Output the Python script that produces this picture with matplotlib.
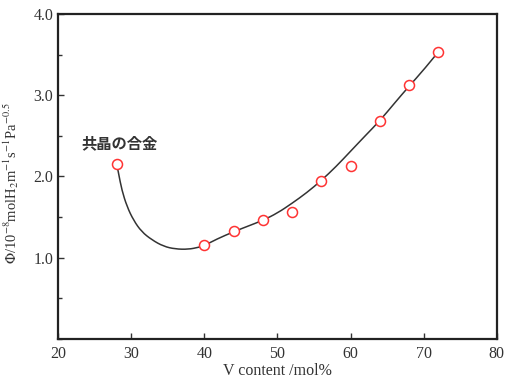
import numpy as np
import matplotlib.pyplot as plt
from matplotlib.ticker import MultipleLocator
from matplotlib.path import Path
from matplotlib.patches import PathPatch

plt.rcParams['font.family'] = ['Liberation Serif', 'DejaVu Serif']
plt.rcParams['mathtext.fontset'] = 'stix'

# measured points
v_content = [28, 40, 44, 48, 52, 56, 60, 64, 68, 72]
phi = [2.15, 1.16, 1.33, 1.47, 1.56, 1.95, 2.13, 2.685, 3.12, 3.53]

# hand drawn trend curve
curve_x = [28.0, 28.24, 28.7, 29.4, 30.3, 31.4, 32.8, 34.4, 36.0, 37.8,
           39.2, 40.0, 41.7, 44.0, 46.0, 48.0, 50.0, 52.0, 54.0, 56.0,
           58.0, 60.0, 62.0, 64.0, 66.0, 68.0, 70.0, 72.0]
curve_y = [2.15, 2.04, 1.83, 1.63, 1.46, 1.32, 1.22, 1.14, 1.107, 1.103,
           1.128, 1.15, 1.23, 1.32, 1.39, 1.46, 1.55, 1.67, 1.80, 1.95,
           2.12, 2.31, 2.50, 2.685, 2.90, 3.11, 3.31, 3.53]

fig = plt.figure(figsize=(5.05, 3.78), dpi=100)
ax = fig.add_axes([0.1155, 0.1032, 0.868, 0.86])

# smooth the read points: quadratic bezier through the midpoints
pts = np.column_stack([curve_x, curve_y])
verts = [pts[0]]
codes = [Path.MOVETO]
for i in range(1, len(pts) - 1):
    mid = (pts[i] + pts[i + 1]) / 2
    if i == len(pts) - 2:
        mid = pts[i + 1]
    verts += [pts[i], mid]
    codes += [Path.CURVE3, Path.CURVE3]
ax.add_patch(PathPatch(Path(verts, codes), fill=False, edgecolor='#333333',
                       lw=1.1, zorder=2))

ax.plot(v_content, phi, 'o', ms=7.2, mfc='white', mec='#ff3333', mew=1.1, zorder=3)

ax.text(23.2, 2.41, '共晶の合金', family=['Noto Sans CJK JP'], fontweight='bold',
        fontsize=11, color='#333333', va='center', ha='left')

ax.set_xlim(20, 80)
ax.set_ylim(0, 4.0)
ax.set_xticks([20, 30, 40, 50, 60, 70, 80])
ax.set_yticks([1.0, 2.0, 3.0, 4.0])
ax.set_yticklabels(['1.0', '2.0', '3.0', '4.0'])
ax.yaxis.set_minor_locator(MultipleLocator(0.5))
ax.tick_params(which='both', direction='in', labelsize=11.5, labelcolor='#333333',
               width=1.0, color='#333333')
ax.tick_params(which='major', length=4)
ax.tick_params(which='minor', length=3)
ax.tick_params(axis='x', pad=5)
for s in ax.spines.values():
    s.set_linewidth(1.6)
    s.set_color('#222222')

ax.set_xlabel('V content /mol%', fontsize=11.5, color='#333333', labelpad=1)
ax.set_ylabel(r'$\Phi$/10$^{-8}$molH$_2$m$^{-1}$s$^{-1}$Pa$^{-0.5}$',
              fontsize=10.5, color='#333333', labelpad=5)
ax.yaxis.set_label_coords(-0.085, 0.48)

fig.savefig('out.png', dpi=100)
